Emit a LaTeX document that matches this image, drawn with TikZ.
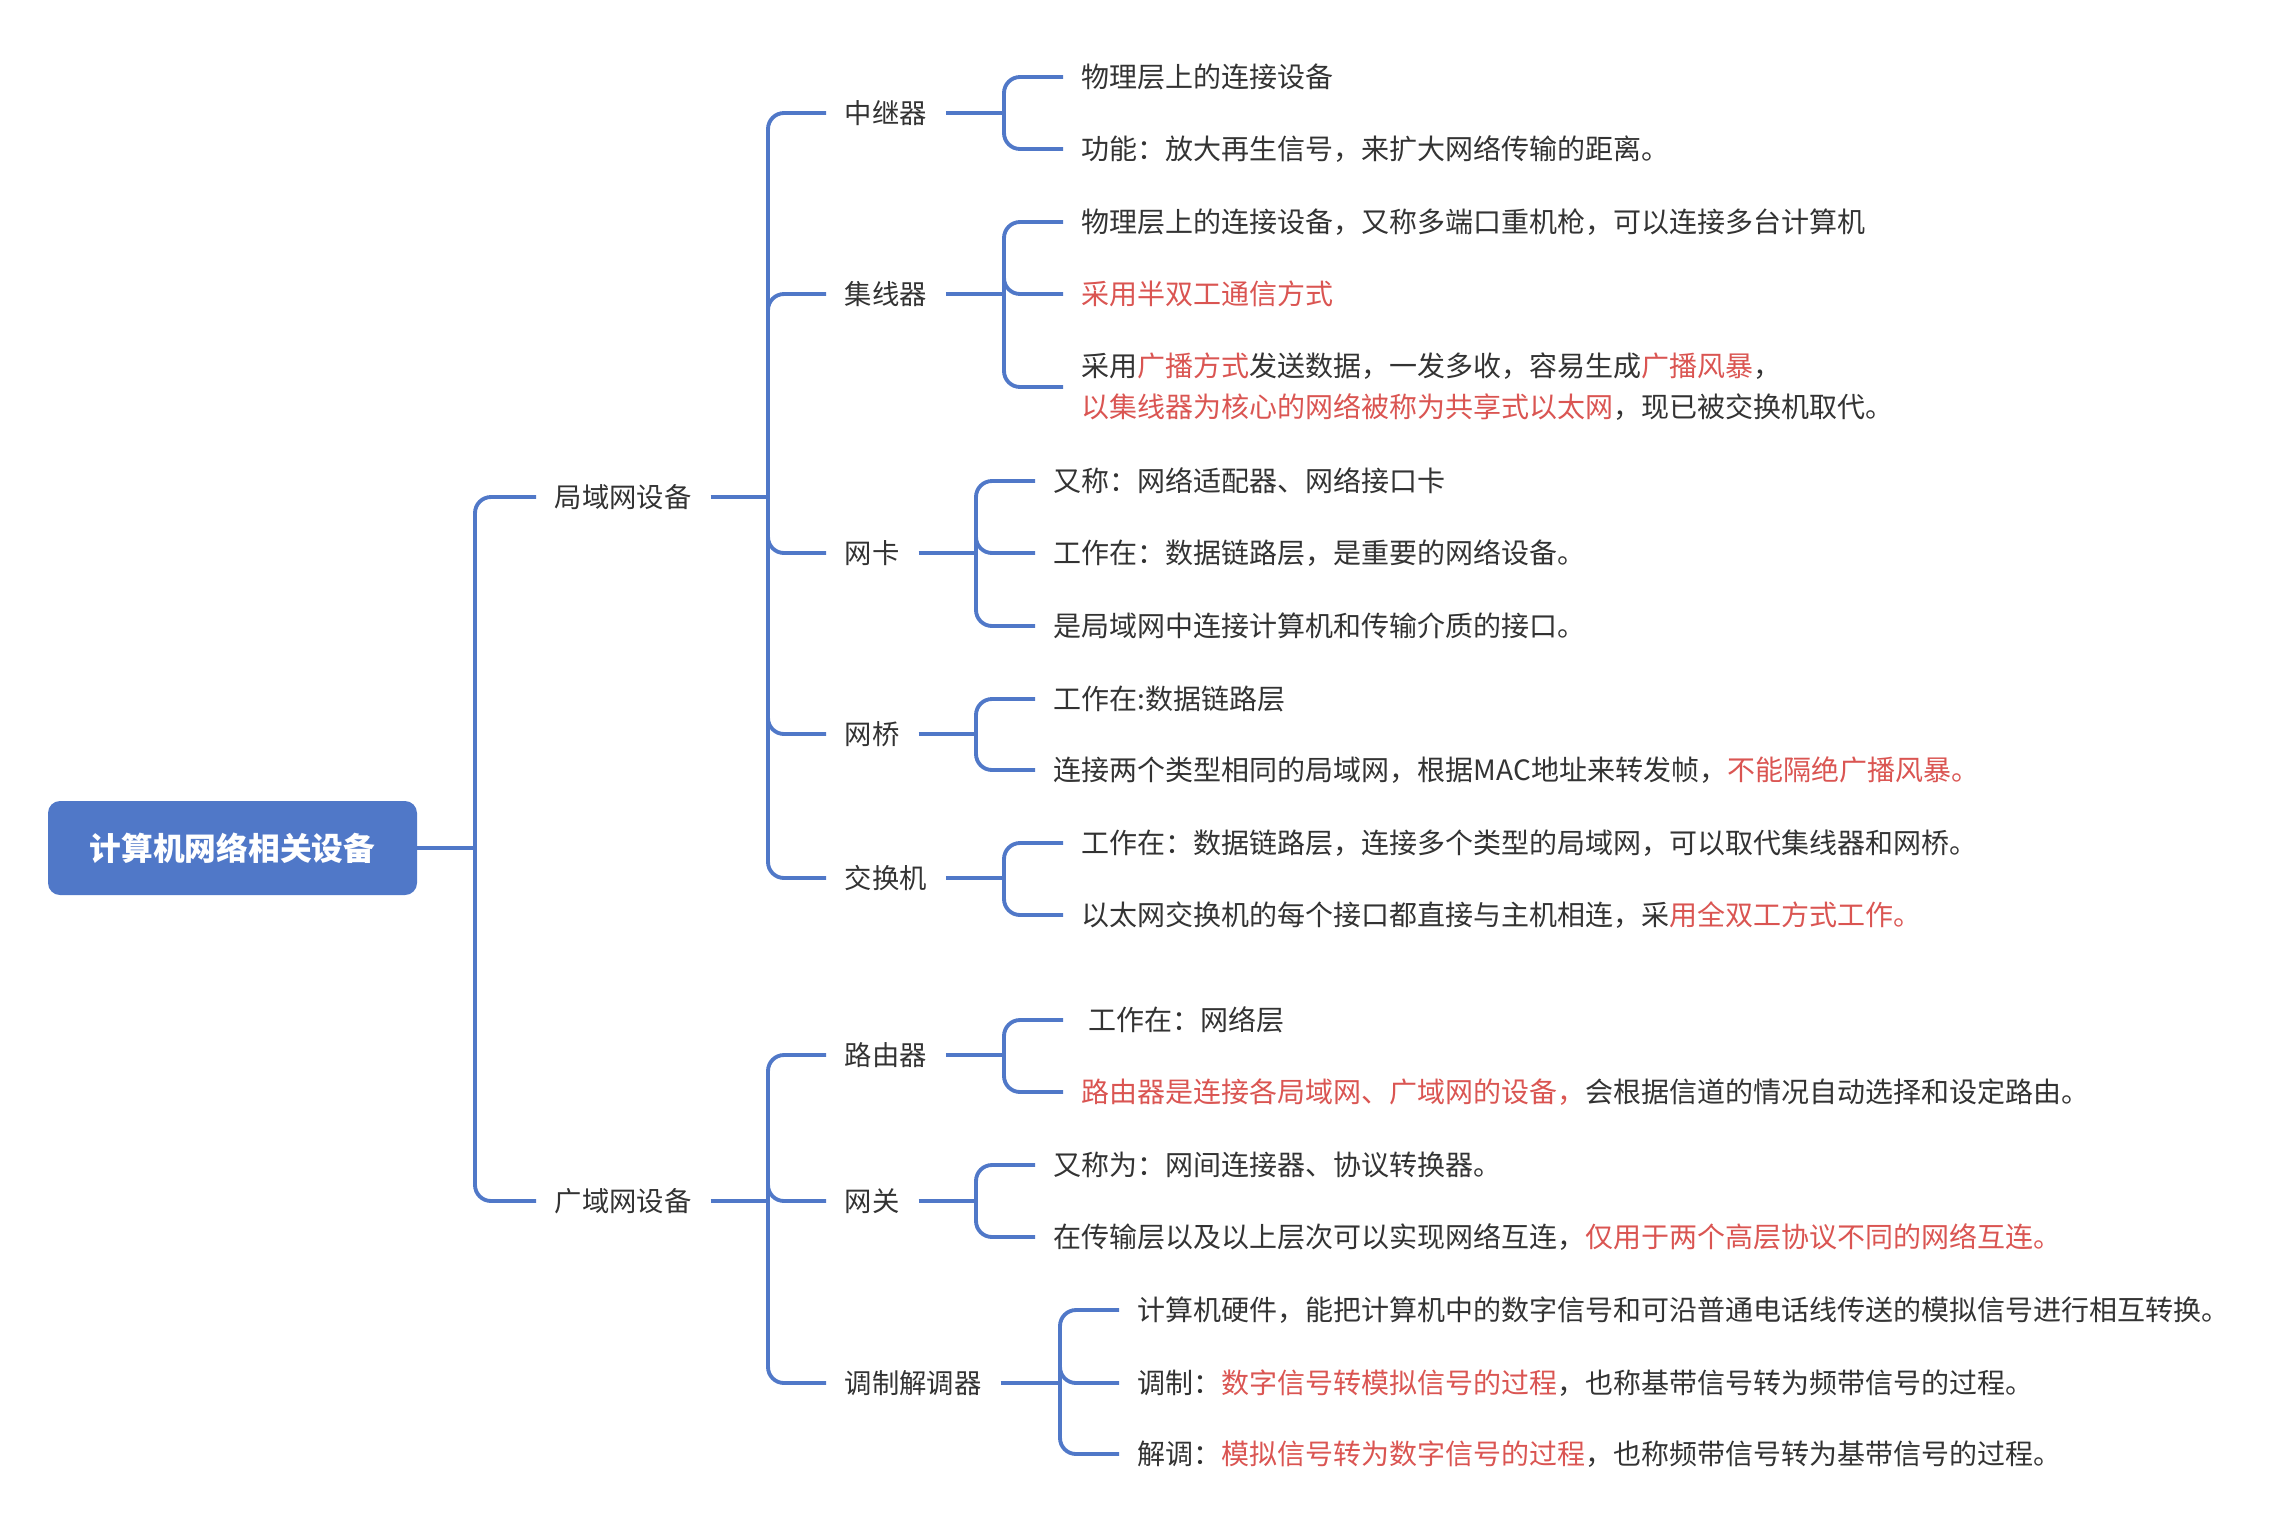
\documentclass[tikz,border=0pt]{standalone}
\usepackage{fontspec}
\setmainfont{Noto Sans CJK SC}
\usetikzlibrary{positioning,calc}
\definecolor{mapblue}{HTML}{5078C8}
\definecolor{mapred}{HTML}{DA5552}
\definecolor{mapink}{HTML}{333333}
\newcommand{\redtxt}[1]{\textcolor{mapred}{#1}}

\begin{document}
\begin{tikzpicture}[x=0.75pt,y=-0.75pt,
    every node/.style={text=mapink, font=\fontsize{20.5pt}{30.75pt}\selectfont},
    topic/.style={anchor=west, inner xsep=14pt, inner ysep=4pt},
    leaf/.style={anchor=west, inner xsep=14pt, inner ysep=4pt, align=left,
        font=\fontsize{21pt}{30.75pt}\selectfont},
    rootbox/.style={fill=mapblue, rounded corners=9pt, text=white,
        font=\fontsize{23.8pt}{28pt}\selectfont\bfseries,
        minimum width=276.75pt, minimum height=70.5pt},
    branch/.style={draw=mapblue, line width=2.9pt, rounded corners=12pt}]
    \useasboundingbox (0,0) rectangle (2292,1532);

    % root
    \node [rootbox] (root) at (232.5,848) {计算机网络相关设备};

    % first level
    \node [topic] (lan) at (536,497) {局域网设备};
    \node [topic] (wan) at (536,1201) {广域网设备};

    % second level
    \node [topic] (rep) at (826,113) {中继器};
    \node [topic] (hub) at (826,294) {集线器};
    \node [topic] (nic) at (826,553) {网卡};
    \node [topic] (brg) at (826,734) {网桥};
    \node [topic] (swt) at (826,878) {交换机};
    \node [topic] (rtr) at (826,1055) {路由器};
    \node [topic] (gw)  at (826,1201) {网关};
    \node [topic] (mdm) at (826,1383) {调制解调器};

    % leaves
    \node [leaf] (rep1) at (1063,77) {物理层上的连接设备};
    \node [leaf] (rep2) at (1063,149) {功能：放大再生信号，来扩大网络传输的距离。};

    \node [leaf] (hub1) at (1063,222) {物理层上的连接设备，又称多端口重机枪，可以连接多台计算机};
    \node [leaf] (hub2) at (1063,294) {\redtxt{采用半双工通信方式}};
    \node [leaf] (hub3) at (1063,387) {采用\redtxt{广播方式}发送数据，一发多收，容易生成\redtxt{广播风暴}，\\
        \redtxt{以集线器为核心的网络被称为共享式以太网}，现已被交换机取代。};

    \node [leaf] (nic1) at (1035,481) {又称：网络适配器、网络接口卡};
    \node [leaf] (nic2) at (1035,553) {工作在：数据链路层，是重要的网络设备。};
    \node [leaf] (nic3) at (1035,626) {是局域网中连接计算机和传输介质的接口。};

    \node [leaf] (brg1) at (1035,699) {工作在:数据链路层};
    \node [leaf] (brg2) at (1035,770) {连接两个类型相同的局域网，根据MAC地址来转发帧，\redtxt{不能隔绝广播风暴。}};

    \node [leaf] (swt1) at (1063,843) {工作在：数据链路层，连接多个类型的局域网，可以取代集线器和网桥。};
    \node [leaf] (swt2) at (1063,915) {以太网交换机的每个接口都直接与主机相连，采\redtxt{用全双工方式工作。}};

    \node [leaf] (rtr1) at (1063,1020) {\hspace*{5pt}工作在：网络层};
    \node [leaf] (rtr2) at (1063,1092) {\redtxt{路由器是连接各局域网、广域网的设备，}会根据信道的情况自动选择和设定路由。};

    \node [leaf] (gw1) at (1035,1165) {又称为：网间连接器、协议转换器。};
    \node [leaf] (gw2) at (1035,1237) {在传输层以及以上层次可以实现网络互连，\redtxt{仅用于两个高层协议不同的网络互连。}};

    \node [leaf] (mdm1) at (1119,1310) {计算机硬件，能把计算机中的数字信号和可沿普通电话线传送的模拟信号进行相互转换。};
    \node [leaf] (mdm2) at (1119,1383) {调制：\redtxt{数字信号转模拟信号的过程}，也称基带信号转为频带信号的过程。};
    \node [leaf] (mdm3) at (1119,1454) {解调：\redtxt{模拟信号转为数字信号的过程}，也称频带信号转为基带信号的过程。};

    % junctions
    \coordinate (rootJ) at (475,848);
    \coordinate (lanJ) at (768,497);
    \coordinate (wanJ) at (768,1201);
    \coordinate (repJ) at (1004,113);
    \coordinate (hubJ) at (1004,294);
    \coordinate (nicJ) at (976,553);
    \coordinate (brgJ) at (976,734);
    \coordinate (swtJ) at (1004,878);
    \coordinate (rtrJ) at (1004,1055);
    \coordinate (gwJ)  at (976,1201);
    \coordinate (mdmJ) at (1060,1383);

    % connectors
    \draw [branch] (root.east) -- (rootJ);
    \foreach \c in {lan,wan} \draw [branch] (rootJ) |- (\c.west);

    \draw [branch] (lan.east) -- (lanJ);
    \foreach \c in {rep,hub,nic,brg,swt} \draw [branch] (lanJ) |- (\c.west);
    \draw [branch] (wan.east) -- (wanJ);
    \foreach \c in {rtr,gw,mdm} \draw [branch] (wanJ) |- (\c.west);

    \draw [branch] (rep.east) -- (repJ);
    \foreach \c in {rep1,rep2} \draw [branch] (repJ) |- (\c.west);
    \draw [branch] (hub.east) -- (hubJ);
    \foreach \c in {hub1,hub2,hub3} \draw [branch] (hubJ) |- (\c.west);
    \draw [branch] (nic.east) -- (nicJ);
    \foreach \c in {nic1,nic2,nic3} \draw [branch] (nicJ) |- (\c.west);
    \draw [branch] (brg.east) -- (brgJ);
    \foreach \c in {brg1,brg2} \draw [branch] (brgJ) |- (\c.west);
    \draw [branch] (swt.east) -- (swtJ);
    \foreach \c in {swt1,swt2} \draw [branch] (swtJ) |- (\c.west);
    \draw [branch] (rtr.east) -- (rtrJ);
    \foreach \c in {rtr1,rtr2} \draw [branch] (rtrJ) |- (\c.west);
    \draw [branch] (gw.east) -- (gwJ);
    \foreach \c in {gw1,gw2} \draw [branch] (gwJ) |- (\c.west);
    \draw [branch] (mdm.east) -- (mdmJ);
    \foreach \c in {mdm1,mdm2,mdm3} \draw [branch] (mdmJ) |- (\c.west);

\end{tikzpicture}
\end{document}
